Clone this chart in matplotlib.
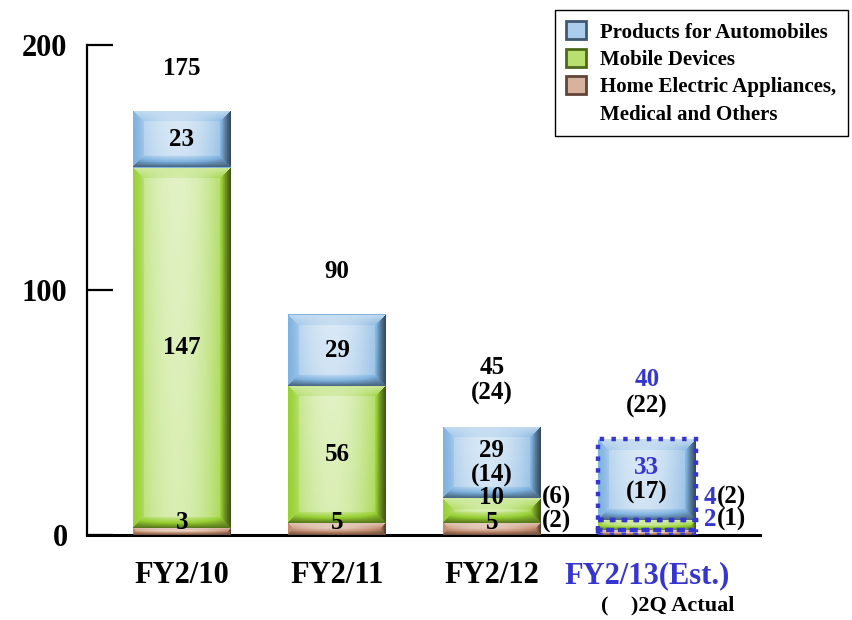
import numpy as np
import matplotlib
matplotlib.use("Agg")
import matplotlib.pyplot as plt
from matplotlib.patches import Patch

plt.rcParams['font.family'] = ['Liberation Serif', 'DejaVu Serif']
plt.rcParams['font.weight'] = 'bold'

# data
years = ['FY2/10', 'FY2/11', 'FY2/12', 'FY2/13(Est.)']
home = [3, 5, 5, 2]
mobile = [147, 56, 10, 4]
auto = [23, 29, 29, 33]
totals = [175, 90, 45, 40]
# 2Q actual values (None = not shown)
totals_2q = [None, None, 24, 22]
auto_2q = [None, None, 14, 17]
mobile_2q = [None, None, 6, 2]
home_2q = [None, None, 2, 1]

series_names = ['Products for Automobiles', 'Mobile Devices',
                'Home Electric Appliances,', 'Medical and Others']
c_auto = np.array([0.50, 0.70, 0.88])
c_mobile = np.array([0.60, 0.82, 0.20])
c_home = np.array([0.76, 0.54, 0.42])
est_blue = '#3535d0'


def shade(base, s):
    if s >= 0:
        return base + (1 - base) * s
    return base * (1 + s)


def bevel_img(w, h, base, bev=11):
    w = max(int(round(w)), 2)
    h = max(int(round(h)), 2)
    b = min(bev, h / 2.0)
    ys, xs = np.mgrid[0:h, 0:w] + 0.5
    u = xs / w
    dt, db, dl, dr = ys, h - ys, xs, w - xs
    d = np.stack([dt, db, dl, dr])
    idx = np.argmin(d, axis=0)
    dmin = np.min(d, axis=0)
    centre = 0.62 - 2.2 * (u - 0.45) ** 2 + 0.1 * (1 - ys / h)
    edge = np.array([0.55, -0.45, 0.0, -0.6])[idx]
    t = np.clip(dmin / b, 0, 1)
    bevel = edge + (centre - 0.15 - edge) * t
    s = np.where(dmin < b, bevel, centre)
    img = np.zeros((h, w, 3))
    for i in range(3):
        img[..., i] = np.where(s >= 0, base[i] + (1 - base[i]) * s, base[i] * (1 + s))
    return np.clip(img, 0, 1)


fig = plt.figure(figsize=(8.52, 6.2), dpi=100)
ax = fig.add_axes([87 / 852, 1 - 535 / 620, (760 - 87) / 852, (535 - 45) / 620])
x = np.arange(len(years))
width = 0.63
xlim = (-0.613, 3.73)
ylim = (0, 200)
ax.set_xlim(*xlim)
ax.set_ylim(*ylim)

home = np.array(home)
mobile = np.array(mobile)
auto = np.array(auto)

layers = [(home, np.zeros(4), c_home), (mobile, home, c_mobile),
          (auto, home + mobile, c_auto)]
for vals, bottom, col in layers:
    bars = ax.bar(x, vals, width, bottom=bottom, color=col, edgecolor='none', zorder=2)
    for b in bars:
        x0, y0 = b.get_x(), b.get_y()
        x1, y1 = x0 + b.get_width(), y0 + b.get_height()
        p0 = ax.transData.transform((x0, y0))
        p1 = ax.transData.transform((x1, y1))
        img = bevel_img(p1[0] - p0[0], p1[1] - p0[1], col)
        im = ax.imshow(img, extent=(x0, x1, y0, y1), aspect='auto',
                       origin='upper', zorder=3, interpolation='bilinear')
        im.set_clip_path(b)

# dotted outline for the estimate bar
for vals, bottom, col in layers:
    ax.bar(x[3], vals[3], width, bottom=bottom[3], fill=False, edgecolor=est_blue,
           linestyle=':', linewidth=3.2, zorder=4)

ax.set_xlim(*xlim)
ax.set_ylim(*ylim)

fs = 18
# labels inside segments
for i in range(4):
    c = est_blue if i == 3 else 'black'
    # automobiles
    mid = home[i] + mobile[i] + auto[i] / 2
    if auto_2q[i] is None:
        ax.text(x[i], mid, str(auto[i]), ha='center', va='center', fontsize=fs, zorder=5)
    else:
        ax.annotate(str(auto[i]), (x[i], mid), xytext=(0, 9), textcoords='offset points',
                    ha='center', va='center', fontsize=fs, color=c, zorder=5)
        ax.annotate('(%d)' % auto_2q[i], (x[i], mid), xytext=(0, -9), textcoords='offset points',
                    ha='center', va='center', fontsize=fs, zorder=5)
    # mobile
    if mobile[i] >= 15:
        ax.text(x[i], home[i] + mobile[i] / 2, str(mobile[i]), ha='center', va='center',
                fontsize=fs, zorder=5)
    elif i == 2:
        ax.text(x[i], 15.5, str(mobile[i]), ha='center', va='center', fontsize=fs, zorder=5)
    # home
    if i < 3:
        ax.text(x[i], 5.3, str(home[i]), ha='center', va='center', fontsize=fs, zorder=5)

# labels to the right of small segments
xr2 = x[2] + width / 2
ax.annotate('(%d)' % mobile_2q[2], (xr2, 15.5), xytext=(1, 0), textcoords='offset points',
            ha='left', va='center', fontsize=fs)
ax.annotate('(%d)' % home_2q[2], (xr2, 5.5), xytext=(1, 0), textcoords='offset points',
            ha='left', va='center', fontsize=fs)
xr3 = x[3] + width / 2
for yy, v, v2 in [(15.5, mobile[3], mobile_2q[3]), (6.5, home[3], home_2q[3])]:
    ax.annotate(str(v), (xr3, yy), xytext=(6, 0), textcoords='offset points',
                ha='left', va='center', fontsize=fs, color=est_blue)
    ax.annotate('(%d)' % v2, (xr3, yy), xytext=(15.5, 0), textcoords='offset points',
                ha='left', va='center', fontsize=fs)

# totals above bars
tops = home + mobile + auto
for i in range(4):
    c = est_blue if i == 3 else 'black'
    if totals_2q[i] is None:
        ax.annotate(str(totals[i]), (x[i], tops[i]), xytext=(0, 31), textcoords='offset points',
                    ha='center', va='center', fontsize=fs, color=c)
    else:
        ax.annotate(str(totals[i]), (x[i], tops[i]), xytext=(0, 43), textcoords='offset points',
                    ha='center', va='center', fontsize=fs, color=c)
        ax.annotate('(%d)' % totals_2q[i], (x[i], tops[i]), xytext=(0, 24),
                    textcoords='offset points', ha='center', va='center', fontsize=fs)

# axes styling
for s in ['top', 'right']:
    ax.spines[s].set_visible(False)
ax.spines['left'].set_linewidth(1.6)
ax.spines['bottom'].set_linewidth(2.2)
ax.set_yticks([0, 100, 200])
ax.tick_params(axis='y', direction='in', length=19, width=1.6, labelsize=22, pad=14)
ax.set_xticks(x)
ax.set_xticklabels(years, fontsize=22)
ax.tick_params(axis='x', length=0, pad=19)
ax.get_xticklabels()[3].set_color(est_blue)

ax.annotate('(    )2Q Actual', (x[3], 0), xycoords=('data', 'axes fraction'),
            xytext=(15, -51), textcoords='offset points', ha='center', va='center',
            fontsize=16)

handles = [Patch(facecolor=shade(c_auto, 0.35), edgecolor=shade(c_auto, -0.5), linewidth=2),
           Patch(facecolor=shade(c_mobile, 0.3), edgecolor=shade(c_mobile, -0.5), linewidth=2),
           Patch(facecolor=shade(c_home, 0.35), edgecolor=shade(c_home, -0.5), linewidth=2),
           Patch(facecolor='none', edgecolor='none')]
leg = ax.legend(handles, series_names, loc='upper right',
                bbox_to_anchor=(848 / 852, 1 - 10 / 620), bbox_transform=fig.transFigure,
                borderaxespad=0, fontsize=15, fancybox=False, framealpha=1,
                edgecolor='black', handlelength=0.95, handleheight=0.95,
                handletextpad=0.7, labelspacing=0.3, borderpad=0.55)
leg.get_frame().set_linewidth(1.0)

fig.savefig('out.png', dpi=100)
